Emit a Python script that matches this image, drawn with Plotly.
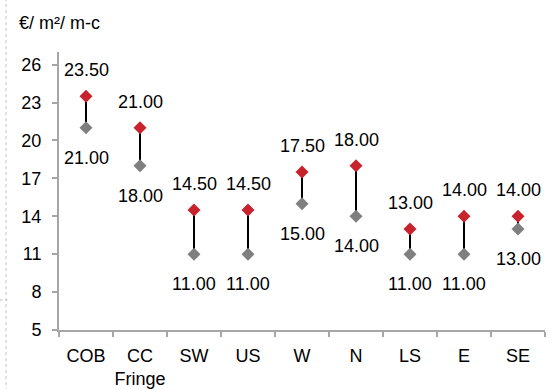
import plotly.graph_objects as go

categories = ["COB", "CC<br>Fringe", "SW", "US", "W", "N", "LS", "E", "SE"]
high_values = [23.5, 21.0, 14.5, 14.5, 17.5, 18.0, 13.0, 14.0, 14.0]
low_values = [21.0, 18.0, 11.0, 11.0, 15.0, 14.0, 11.0, 11.0, 13.0]
y_ticks = [5, 8, 11, 14, 17, 20, 23, 26]

FONT = "Liberation Sans, Arial, sans-serif"
FS = 18
RED = "#C8232C"
GREY = "#7F7F7F"
AXIS = "#A6A6A6"

fig = go.Figure()

# vertical connecting lines
lx, ly = [], []
for c, lo, hi in zip(categories, low_values, high_values):
    lx += [c, c, None]
    ly += [lo, hi, None]
fig.add_trace(go.Scatter(x=lx, y=ly, mode="lines",
                         line=dict(color="black", width=2),
                         hoverinfo="skip", showlegend=False))

fig.add_trace(go.Scatter(x=categories, y=low_values, mode="markers",
                         marker=dict(symbol="diamond", size=10, color=GREY),
                         showlegend=False))
fig.add_trace(go.Scatter(x=categories, y=high_values, mode="markers",
                         marker=dict(symbol="diamond", size=10, color=RED),
                         showlegend=False))

annotations = []
for c, lo, hi in zip(categories, low_values, high_values):
    annotations.append(dict(x=c, y=hi, text=f"{hi:.2f}", showarrow=False,
                            xanchor="center", yanchor="middle", yshift=26,
                            font=dict(family=FONT, size=FS, color="black")))
    annotations.append(dict(x=c, y=lo, text=f"{lo:.2f}", showarrow=False,
                            xanchor="center", yanchor="middle", yshift=-30,
                            font=dict(family=FONT, size=FS, color="black")))

annotations.append(dict(xref="paper", yref="paper", x=-0.087, y=1.0,
                        yshift=29, xanchor="left", yanchor="middle",
                        text="€/ m²/ m-c", showarrow=False,
                        font=dict(family=FONT, size=FS, color="black")))

shapes = [
    dict(type="line", xref="paper", yref="paper", x0=-0.109, x1=-0.109,
         y0=-0.22, y1=1.19, line=dict(color="#BFBFBF", width=1, dash="dot")),
    dict(type="line", xref="paper", yref="paper", x0=-0.122, x1=-0.106,
         y0=0.108, y1=0.108, line=dict(color="#BFBFBF", width=1, dash="dot")),
]

fig.update_layout(
    width=554, height=389,
    margin=dict(l=59, r=9, t=52, b=59),
    paper_bgcolor="white", plot_bgcolor="white",
    font=dict(family=FONT, size=FS, color="black"),
    annotations=annotations,
    shapes=shapes,
    xaxis=dict(type="category", range=[-0.5, 8.5], tickson="boundaries",
               ticks="outside", ticklen=5, tickwidth=2, tickcolor=AXIS,
               tickangle=0, automargin=False, ticklabelstandoff=8,
               showline=True, linecolor=AXIS, linewidth=2, showgrid=False,
               tickfont=dict(family=FONT, size=FS, color="black")),
    yaxis=dict(range=[5, 27], tickvals=y_ticks, ticks="outside", ticklen=5,
               tickwidth=2, tickcolor=AXIS, showline=True, linecolor=AXIS,
               linewidth=2, showgrid=False, zeroline=False,
               ticklabelstandoff=7, automargin=False,
               tickfont=dict(family=FONT, size=FS, color="black")),
)

fig.write_html("out.html")
